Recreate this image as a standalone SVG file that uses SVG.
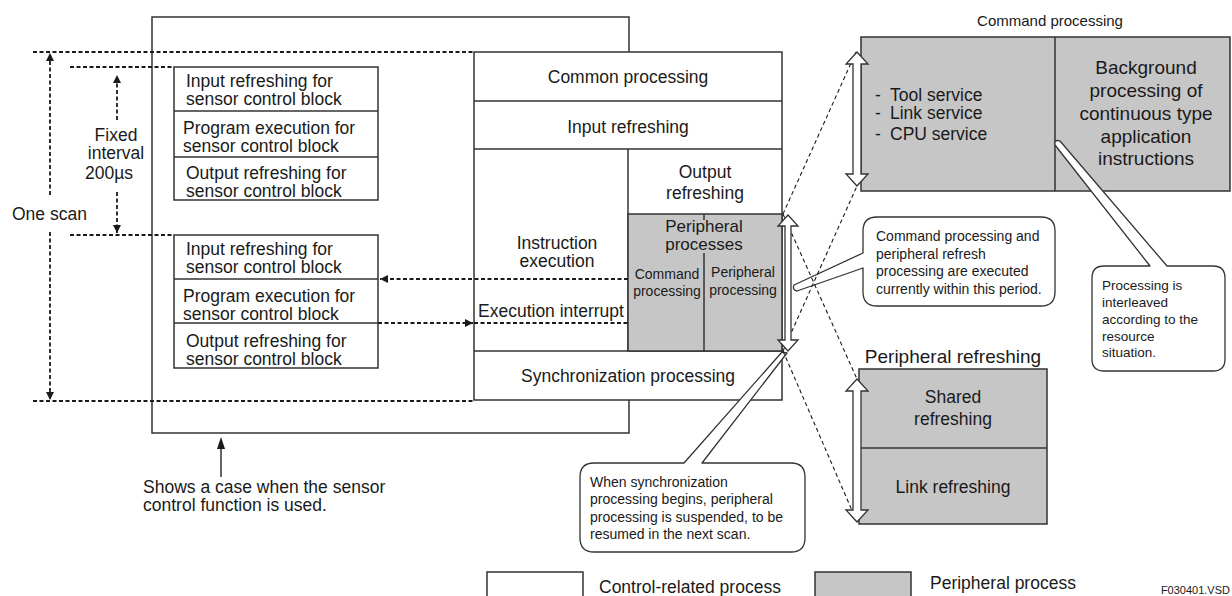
<svg xmlns="http://www.w3.org/2000/svg" width="1232" height="596" viewBox="0 0 1232 596">
  <defs>
    <style>
      text { font-family: "Liberation Sans", Arial, sans-serif; fill: #1a1a1a; }
      .t18 { font-size: 17.5px; }
      .t17 { font-size: 17px; }
      .t19 { font-size: 19px; }
      .t15 { font-size: 15px; }
      .t14 { font-size: 14px; }
      .t13 { font-size: 13.5px; }
      .mid { text-anchor: middle; }
      .box { fill: #ffffff; stroke: #333333; stroke-width: 1.5; }
      .gray { fill: #c6c6c6; stroke: #333333; stroke-width: 1.5; }
      .line { fill: none; stroke: #333333; stroke-width: 1.5; }
      .dash { fill: none; stroke: #1a1a1a; stroke-width: 1.8; stroke-dasharray: 4 2.5; }
      .proj { fill: none; stroke: #1a1a1a; stroke-width: 1.1; stroke-dasharray: 4 3; }
      .hollow { fill: #ffffff; stroke: #333333; stroke-width: 1.3; stroke-linejoin: miter; }
      .callout { fill: #ffffff; stroke: #333333; stroke-width: 1.3; stroke-linejoin: round; }
    </style>
    <marker id="ah" viewBox="0 0 10 10" refX="10" refY="5" markerWidth="11" markerHeight="8" markerUnits="userSpaceOnUse" orient="auto">
      <path d="M0,0 L10,5 L0,10 Z" fill="#1a1a1a"/>
    </marker>
  </defs>

  <!-- background frame: case using the sensor control function -->
  <rect id="sensor-frame" class="line" x="152" y="17" width="477" height="416"/>

  <!-- scan boundaries and interval guides -->
  <g id="scan-guides">
    <line class="dash" x1="33" y1="52" x2="474" y2="52"/>
    <line class="dash" x1="33" y1="401" x2="474" y2="401"/>
    <line class="dash" x1="70" y1="67" x2="174" y2="67"/>
    <line class="dash" x1="70" y1="235" x2="174" y2="235"/>
    <line class="dash" x1="50" y1="195" x2="50" y2="53" marker-end="url(#ah)"/>
    <line class="dash" x1="50" y1="232" x2="50" y2="400" marker-end="url(#ah)"/>
    <line class="dash" x1="117" y1="120" x2="117" y2="75" marker-end="url(#ah)"/>
    <line class="dash" x1="117" y1="192" x2="117" y2="233" marker-end="url(#ah)"/>
    <text class="t18" x="12" y="220">One scan</text>
    <text class="t18 mid" x="116" y="141">Fixed</text>
    <text class="t18 mid" x="116" y="159">interval</text>
    <text class="t18 mid" x="109" y="179">200µs</text>
  </g>

  <!-- sensor control block, first cycle -->
  <g id="sensor-block-1">
    <rect class="box" x="174" y="67" width="204" height="133"/>
    <line class="line" x1="174" y1="111" x2="378" y2="111"/>
    <line class="line" x1="174" y1="157" x2="378" y2="157"/>
    <text class="t18" x="186" y="87">Input refreshing for</text>
    <text class="t18" x="186" y="105">sensor control block</text>
    <text class="t18" x="183" y="134">Program execution for</text>
    <text class="t18" x="183" y="152">sensor control block</text>
    <text class="t18" x="186" y="179">Output refreshing for</text>
    <text class="t18" x="186" y="197">sensor control block</text>
  </g>

  <!-- sensor control block, second cycle -->
  <g id="sensor-block-2">
    <rect class="box" x="174" y="235" width="204" height="133"/>
    <line class="line" x1="174" y1="279" x2="378" y2="279"/>
    <line class="line" x1="174" y1="323" x2="378" y2="323"/>
    <text class="t18" x="186" y="255">Input refreshing for</text>
    <text class="t18" x="186" y="273">sensor control block</text>
    <text class="t18" x="183" y="302">Program execution for</text>
    <text class="t18" x="183" y="320">sensor control block</text>
    <text class="t18" x="186" y="347">Output refreshing for</text>
    <text class="t18" x="186" y="365">sensor control block</text>
  </g>

  <!-- main scan table -->
  <g id="scan-table">
    <rect class="box" x="474" y="52" width="308" height="348"/>
    <line class="line" x1="474" y1="101" x2="782" y2="101"/>
    <line class="line" x1="474" y1="149" x2="782" y2="149"/>
    <line class="line" x1="628" y1="149" x2="628" y2="351"/>
    <line class="line" x1="474" y1="351" x2="782" y2="351"/>
    <text class="t18 mid" x="628" y="83">Common processing</text>
    <text class="t18 mid" x="628" y="133">Input refreshing</text>
    <text class="t18 mid" x="705" y="178">Output</text>
    <text class="t18 mid" x="705" y="199">refreshing</text>
    <text class="t18 mid" x="557" y="249">Instruction</text>
    <text class="t18 mid" x="557" y="267">execution</text>
    <text class="t18" x="478" y="317">Execution interrupt</text>
    <text class="t18 mid" x="628" y="382">Synchronization processing</text>
  </g>

  <!-- peripheral processes cell -->
  <g id="peripheral-processes">
    <rect class="gray" x="628" y="214" width="154" height="137"/>
    <line class="line" x1="704" y1="214" x2="704" y2="220" stroke-width="1.2"/>
    <line class="line" x1="704" y1="253" x2="704" y2="351" stroke-width="1.2"/>
    <text class="t17 mid" x="704" y="232">Peripheral</text>
    <text class="t17 mid" x="704" y="250">processes</text>
    <text class="t14 mid" x="667" y="279">Command</text>
    <text class="t14 mid" x="667" y="296">processing</text>
    <text class="t14 mid" x="743" y="277">Peripheral</text>
    <text class="t14 mid" x="743" y="295">processing</text>
  </g>

  <!-- command processing detail -->
  <g id="command-processing">
    <text class="t15 mid" x="1050" y="26">Command processing</text>
    <rect class="gray" x="861" y="37" width="369" height="154"/>
    <line class="line" x1="1055" y1="37" x2="1055" y2="191"/>
    <text class="t18" x="875" y="101">-</text>
    <text class="t18" x="890" y="101">Tool service</text>
    <text class="t18" x="875" y="119">-</text>
    <text class="t18" x="890" y="119">Link service</text>
    <text class="t18" x="875" y="140">-</text>
    <text class="t18" x="890" y="140">CPU service</text>
    <text class="t19 mid" x="1146" y="74">Background</text>
    <text class="t19 mid" x="1146" y="97">processing of</text>
    <text class="t19 mid" x="1146" y="120">continuous type</text>
    <text class="t19 mid" x="1146" y="143">application</text>
    <text class="t19 mid" x="1146" y="165">instructions</text>
  </g>

  <!-- peripheral refreshing detail -->
  <g id="peripheral-refreshing">
    <text class="t19 mid" x="953" y="363">Peripheral refreshing</text>
    <rect class="gray" x="859" y="369" width="188" height="155"/>
    <line class="line" x1="859" y1="448" x2="1047" y2="448"/>
    <text class="t18 mid" x="953" y="403">Shared</text>
    <text class="t18 mid" x="953" y="425">refreshing</text>
    <text class="t18 mid" x="953" y="493">Link refreshing</text>
  </g>

  <!-- explanatory callouts -->
  <g id="callout-concurrent">
    <path class="callout" d="M877,217 H1041 Q1055,217 1055,231 V292 Q1055,306 1041,306 H877 Q863,306 863,292 V268 L797,291 Q792,290 794,285 L863,253 V231 Q863,217 877,217 Z"/>
    <text class="t14" x="876" y="241">Command processing and</text>
    <text class="t14" x="876" y="259">peripheral refresh</text>
    <text class="t14" x="876" y="276">processing are executed</text>
    <text class="t14" x="876" y="294">currently within this period.</text>
  </g>
  <g id="callout-interleave">
    <path class="callout" d="M1104,266 H1150 L1055,145 Q1054,139 1060,141 L1167,266 H1213 Q1225,266 1225,278 V359 Q1225,371 1213,371 H1104 Q1092,371 1092,359 V278 Q1092,266 1104,266 Z"/>
    <text class="t13" x="1102" y="290">Processing is</text>
    <text class="t13" x="1102" y="307">interleaved</text>
    <text class="t13" x="1102" y="324">according to the</text>
    <text class="t13" x="1102" y="341">resource</text>
    <text class="t13" x="1102" y="357">situation.</text>
  </g>
  <g id="callout-suspend">
    <path class="callout" d="M594,463 H684 L782,352 L787,353 L702,463 H791 Q805,463 805,477 V538 Q805,552 791,552 H594 Q580,552 580,538 V477 Q580,463 594,463 Z"/>
    <text class="t14" x="590" y="487">When synchronization</text>
    <text class="t14" x="590" y="504">processing begins, peripheral</text>
    <text class="t14" x="590" y="522">processing is suspended, to be</text>
    <text class="t14" x="590" y="539">resumed in the next scan.</text>
  </g>

  <!-- connectors -->
  <g id="connectors">
    <line class="dash" x1="628" y1="279" x2="380" y2="279" marker-end="url(#ah)"/>
    <line class="dash" x1="378" y1="323" x2="473" y2="323" marker-end="url(#ah)"/>
    <line class="dash" x1="474" y1="323" x2="628" y2="323"/>
    <line class="proj" x1="783" y1="214" x2="856" y2="52"/>
    <line class="proj" x1="783" y1="351" x2="857" y2="186"/>
    <line class="proj" x1="783" y1="214" x2="857" y2="379"/>
    <line class="proj" x1="783" y1="351" x2="857" y2="522"/>
    <!-- hollow span arrows -->
    <path class="hollow" d="M788,215 L798,226 L791,226 L791,340 L798,340 L788,351 L778,340 L785,340 L785,226 L778,226 Z"/>
    <path class="hollow" d="M857,52 L868,64 L861,64 L861,174 L868,174 L857,186 L846,174 L853,174 L853,64 L846,64 Z"/>
    <path class="hollow" d="M857,379 L868,391 L861,391 L861,510 L868,510 L857,522 L846,510 L853,510 L853,391 L846,391 Z"/>
    <!-- pointer to the sensor frame -->
    <line class="line" x1="221" y1="477" x2="221" y2="448"/>
    <path d="M221,437 L225,449 L217,449 Z" fill="#1a1a1a"/>
  </g>

  <text class="t18" x="143" y="493">Shows a case when the sensor</text>
  <text class="t18" x="143" y="511">control function is used.</text>

  <!-- legend -->
  <g id="legend">
    <rect class="box" x="487" y="572" width="96" height="30"/>
    <text class="t18" x="599" y="593">Control-related process</text>
    <rect class="gray" x="815" y="572" width="96" height="30"/>
    <text class="t18" x="930" y="589">Peripheral process</text>
    <text x="1230" y="594" font-size="11" text-anchor="end">F030401.VSD</text>
  </g>
</svg>
